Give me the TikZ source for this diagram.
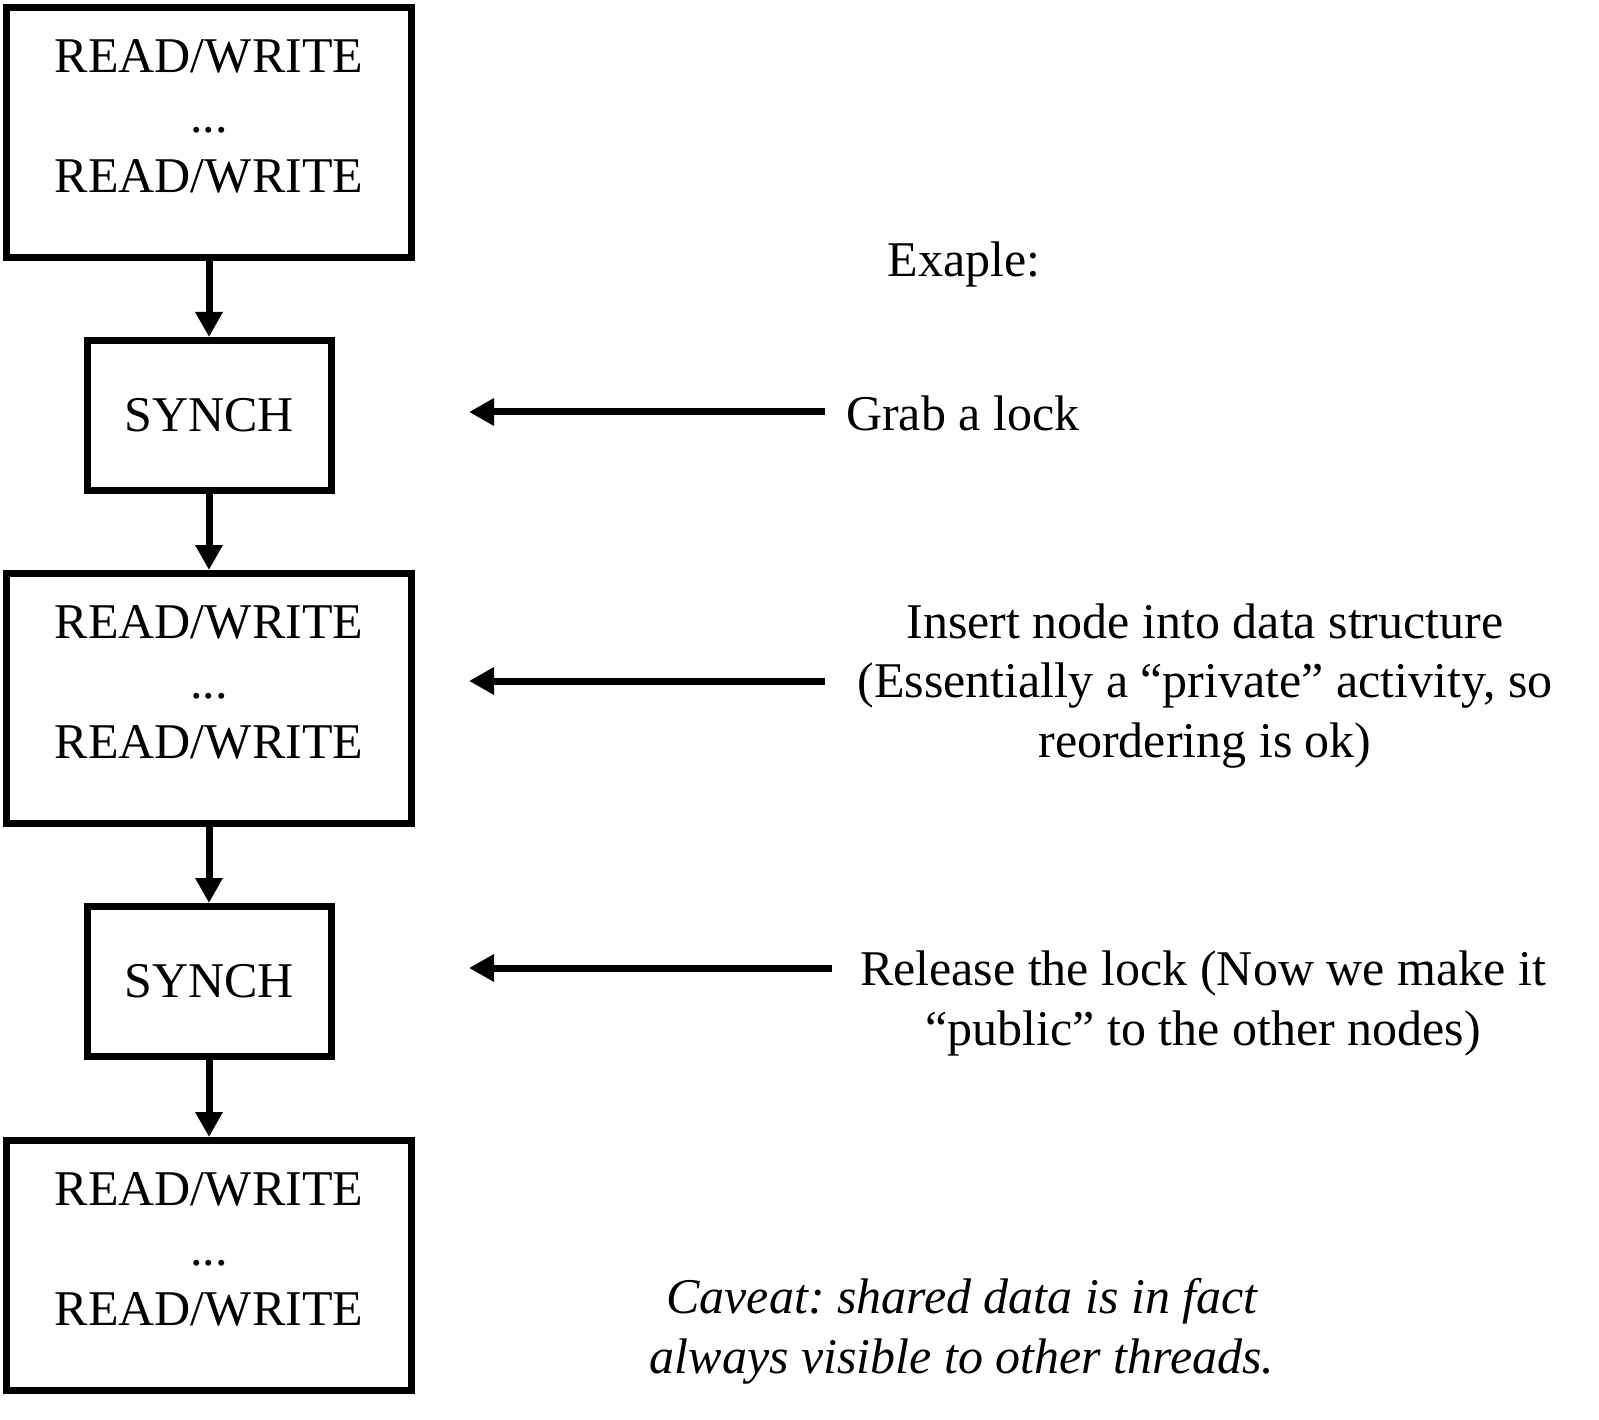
\documentclass[tikz,border=0pt]{standalone}
\usepackage{fontspec}
\setmainfont{Liberation Serif}
\usetikzlibrary{arrows.meta}
\newcommand\bigfnt{\fontsize{50}{60}\selectfont\frenchspacing}
\newcommand\rwfix{\raisebox{-\height}{\vphantom{READ/WRITE}}}
\begin{document}
\frenchspacing
\begin{tikzpicture}[x=1pt,y=-1pt,
  rwbox/.style={draw, line width=7pt, minimum width=405pt, minimum height=250pt,
    inner sep=0pt, align=center, font=\bigfnt},
  synbox/.style={draw, line width=7pt, minimum width=244pt, minimum height=150pt,
    inner sep=0pt, font=\bigfnt},
  flow/.style={line width=7pt, -{Triangle[length=25pt,width=26pt]}},
  note/.style={anchor=base, inner sep=0pt, font=\bigfnt},
  inote/.style={note, font=\bigfnt\itshape}]
\useasboundingbox (0,0) rectangle (1599,1420);
% left column
\node[rwbox] (rw1) at (209,132.5) {READ/WRITE\\...\\READ/WRITE\rwfix};
\node[synbox] (s1) at (209,415.5) {SYNCH};
\node[rwbox] (rw2) at (209,698.5) {READ/WRITE\\...\\READ/WRITE\rwfix};
\node[synbox] (s2) at (209,981.5) {SYNCH};
\node[rwbox] (rw3) at (209,1265.5) {READ/WRITE\\...\\READ/WRITE\rwfix};
\draw[flow] (rw1.south) -- (s1.north);
\draw[flow] (s1.south) -- (rw2.north);
\draw[flow] (rw2.south) -- (s2.north);
\draw[flow] (s2.south) -- (rw3.north);
% right column texts
\node[note] (ex) at (964,277) {Exaple:};
\node[note, anchor=base west] (grab) at (846,431) {Grab a lock};
\node[note] (ins1) at (1205,638) {Insert node into data structure};
\node[note] (ins2) at (1205,697) {(Essentially a “private” activity, so};
\node[note] (ins3) at (1205,757) {reordering is ok)};
\node[note] (rel1) at (1203,985) {Release the lock (Now we make it};
\node[note] (rel2) at (1203,1045) {“public” to the other nodes)};
\node[inote] (cav1) at (962,1313) {Caveat: shared data is in fact};
\node[inote] (cav2) at (962,1373) {always visible to other threads.};
% pointer arrows
\coordinate (p1s) at (825,412);
\coordinate (p1e) at (469,412);
\coordinate (p2s) at (825,681);
\coordinate (p2e) at (469,681);
\coordinate (p3s) at (832,968);
\coordinate (p3e) at (469,968);
\draw[flow] (p1s) -- (p1e);
\draw[flow] (p2s) -- (p2e);
\draw[flow] (p3s) -- (p3e);
\end{tikzpicture}
\end{document}
